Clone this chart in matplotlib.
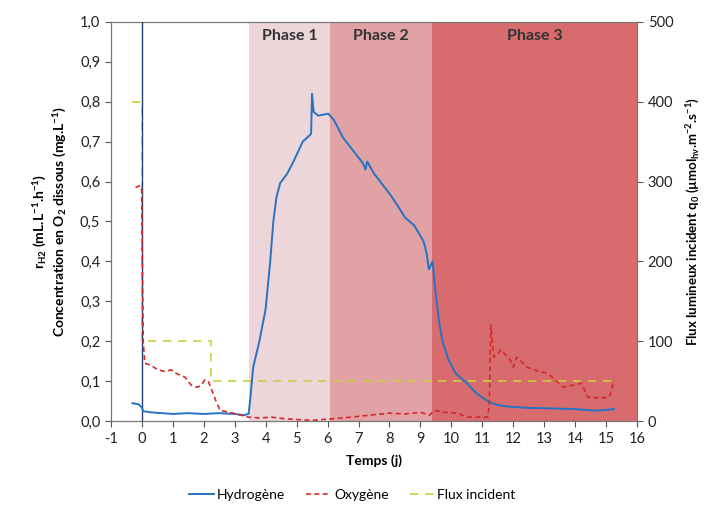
import matplotlib
matplotlib.use("Agg")
import matplotlib.pyplot as plt
from matplotlib.ticker import FuncFormatter

plt.rcParams['font.family'] = ['Lato', 'DejaVu Sans']
plt.rcParams['axes.unicode_minus'] = False
plt.rcParams['mathtext.fontset'] = 'custom'
plt.rcParams['mathtext.rm'] = 'Lato'
plt.rcParams['mathtext.bf'] = 'Lato:bold'
plt.rcParams['mathtext.it'] = 'Lato:italic'

# Hydrogen (left axis)
h2_t = [-0.3, -0.1, 0.0, 0.05, 0.3, 1.0, 1.5, 2.0, 2.5, 3.0, 3.3, 3.45, 3.5, 3.6, 3.8, 4.0, 4.15, 4.25,
        4.35, 4.47, 4.7, 4.9, 5.2, 5.44, 5.47, 5.5, 5.55, 5.7, 6.02, 6.2, 6.5, 6.8, 7.15, 7.22, 7.28,
        7.5, 7.8, 8.0, 8.26, 8.5, 8.8, 9.1, 9.2, 9.27, 9.39, 9.49, 9.6, 9.71, 9.9, 10.13, 10.5, 10.8,
        11.2, 11.5, 11.9, 12.5, 13.2, 14.0, 14.7, 15.25]
h2_v = [0.045, 0.042, 0.035, 0.025, 0.022, 0.018, 0.02, 0.018, 0.02, 0.018, 0.015, 0.018, 0.05, 0.135,
        0.2, 0.28, 0.40, 0.50, 0.56, 0.596, 0.62, 0.65, 0.70, 0.717, 0.72, 0.82, 0.775, 0.765, 0.77,
        0.755, 0.71, 0.68, 0.645, 0.63, 0.65, 0.62, 0.59, 0.57, 0.54, 0.51, 0.49, 0.45, 0.42, 0.38,
        0.40, 0.32, 0.25, 0.20, 0.155, 0.12, 0.095, 0.07, 0.048, 0.04, 0.036, 0.033, 0.032, 0.03,
        0.026, 0.03]

# Oxygen (left axis)
o2_t = [-0.2, -0.05, 0.0, 0.05, 0.1, 0.3, 0.49, 0.7, 0.97, 1.1, 1.4, 1.6, 1.78, 1.9, 2.04, 2.15,
        2.26, 2.4, 2.53, 2.95, 3.2, 3.44, 3.8, 4.2, 4.6, 5.0, 5.5, 6.0, 6.5, 7.0, 7.5, 8.0, 8.5,
        9.0, 9.3, 9.44, 9.8, 10.2, 10.5, 11.17, 11.22, 11.27, 11.37, 11.6, 11.9, 12.0, 12.1, 12.45,
        12.8, 13.1, 13.43, 13.6, 13.9, 14.2, 14.4, 14.8, 15.1, 15.25]
o2_v = [0.585, 0.59, 0.58, 0.2, 0.145, 0.14, 0.13, 0.125, 0.128, 0.12, 0.11, 0.09, 0.085, 0.088,
        0.103, 0.1, 0.078, 0.05, 0.027, 0.02, 0.015, 0.01, 0.008, 0.01, 0.006, 0.004, 0.002, 0.005,
        0.008, 0.012, 0.016, 0.02, 0.018, 0.022, 0.015, 0.027, 0.022, 0.02, 0.01, 0.01, 0.04, 0.24,
        0.16, 0.178, 0.153, 0.135, 0.16, 0.135, 0.125, 0.12, 0.098, 0.085, 0.09, 0.095, 0.06, 0.058,
        0.06, 0.103]

# Incident flux (right axis)
flux_t = [-0.3, 0.0, 0.0, 2.25, 2.25, 15.2]
flux_v = [400, 400, 100, 100, 50, 50]

phases = ["Phase 1", "Phase 2", "Phase 3"]
phase_bounds = [(3.47, 6.09), (6.09, 9.36), (9.36, 16.0)]
phase_colors = ["#EDD6D9", "#E0A2A5", "#D86B6D"]

fig = plt.figure(figsize=(7.05, 5.08), dpi=100)
ax = fig.add_axes([0.157, 0.171, 0.747, 0.786])
ax2 = ax.twinx()
ax.set_zorder(ax2.get_zorder() + 1)
ax.patch.set_visible(False)

for (a, b), c, name in zip(phase_bounds, phase_colors, phases):
    ax2.axvspan(a, b, color=c, lw=0, zorder=0)
    ax.text((a + b) / 2, 0.965, name, ha='center', va='center', fontsize=11.5,
            fontweight='bold', color='#333333', zorder=5)

l3, = ax2.plot(flux_t, flux_v, color='#C8D040', lw=1.2, ls=(0, (5, 4)), label='Flux incident', zorder=2)
ax.axvline(0, color='#2a3f6e', lw=1.0, zorder=3)
ax.plot(h2_t, h2_v, color='#2673C4', lw=1.4, label='Hydrogène', zorder=4)
ax.plot(o2_t, o2_v, color='#D42A2A', lw=1.2, ls=(0, (3, 2)), label='Oxygène', zorder=4)

ax.set_xlim(-1, 16)
ax.set_ylim(0, 1.0)
ax2.set_ylim(0, 500)
ax.set_xticks(range(-1, 17))
ax.set_yticks([i / 10 for i in range(11)])
ax2.set_yticks(range(0, 501, 100))
ax.yaxis.set_major_formatter(FuncFormatter(lambda v, p: f"{v:.1f}".replace('.', ',')))

for a in (ax, ax2):
    a.tick_params(labelsize=10.5, color='#555555', labelcolor='#222222', length=4)
    for s in a.spines.values():
        s.set_color('#777777')

ax.set_xlabel('Temps (j)', fontsize=10, fontweight='bold', labelpad=6)
ax.set_ylabel('r$_{\\mathbf{H2}}$ (mL.L$^{\\mathbf{-1}}$.h$^{\\mathbf{-1}}$)\n'
              'Concentration en O$_{\\mathbf{2}}$ dissous (mg.L$^{\\mathbf{-1}}$)',
              fontsize=10, fontweight='bold', labelpad=8)
ax2.set_ylabel('Flux lumineux incident q$_{\\mathbf{0}}$ (µmol$_{\\mathbf{h\\nu}}$.m$^{\\mathbf{-2}}$.s$^{\\mathbf{-1}}$)',
               fontsize=9.5, fontweight='bold', labelpad=8)

h, l = ax.get_legend_handles_labels()
fig.legend(h + [l3], l + ['Flux incident'], loc='lower center', ncol=3, frameon=False,
           fontsize=10, bbox_to_anchor=(0.5, -0.01), handlelength=1.8, columnspacing=1.5,
           handletextpad=0.2)

fig.savefig('out.png', dpi=100)
